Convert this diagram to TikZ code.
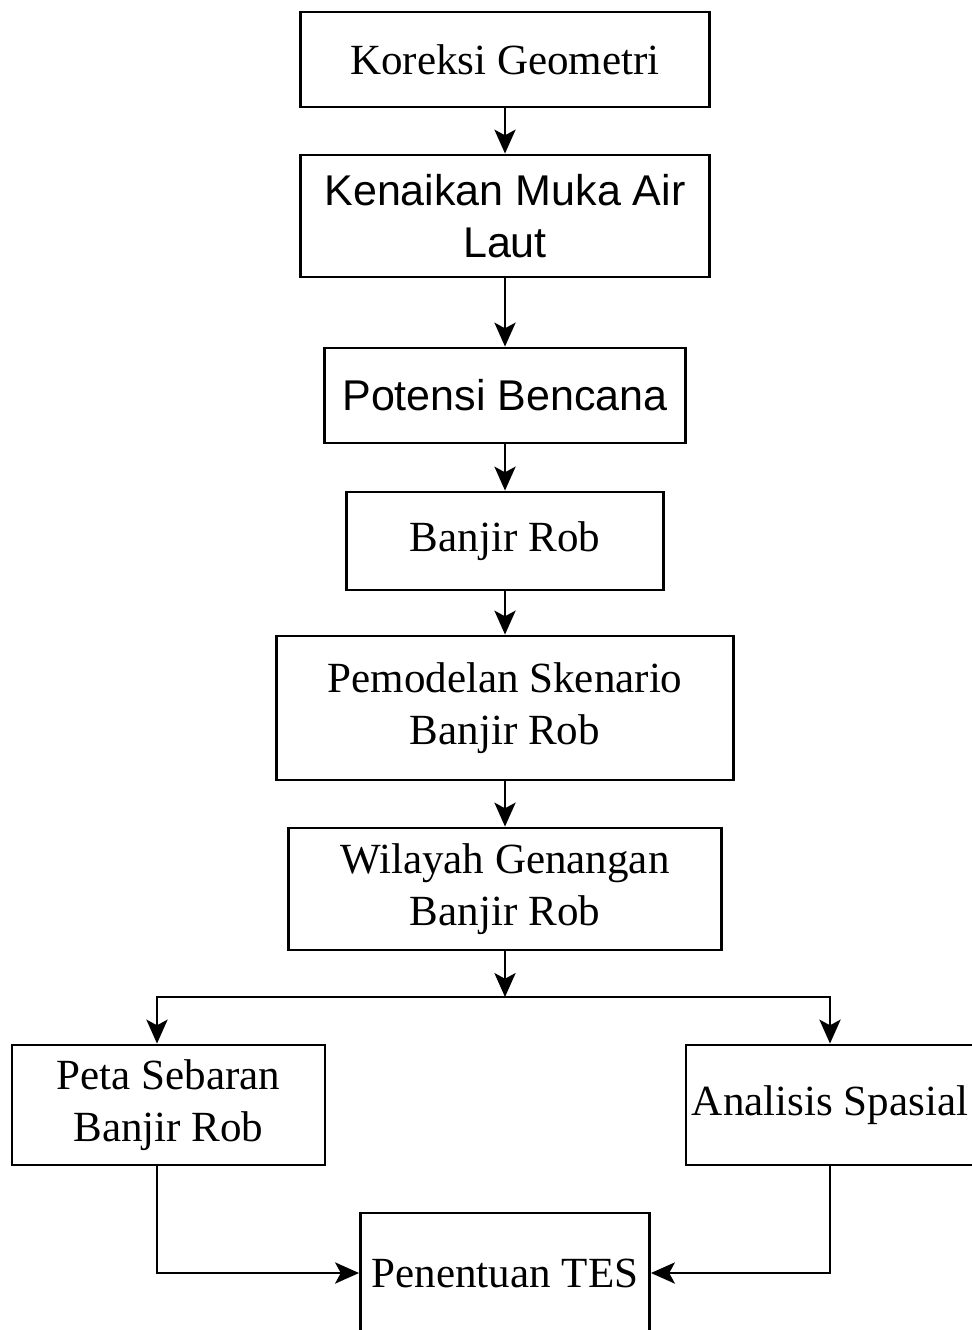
\documentclass[tikz,border=0pt]{standalone}
\usepackage{fontspec}
\setmainfont{Liberation Serif}
\newfontfamily\arialfnt{Liberation Sans}
\usepackage{tikz}
\usetikzlibrary{positioning, arrows.meta}
\tikzset{
  stepbox/.style={draw, line width=2pt, inner sep=0pt, align=center,
    font=\fontsize{30.6pt}{37pt}\selectfont},
  sansbox/.style={stepbox, font=\arialfnt\fontsize{30.6pt}{37pt}\selectfont},
  arr/.style={line width=2pt, -{Stealth[length=17pt, width=15pt, inset=4pt]}}
}

\begin{document}
\begin{tikzpicture}[x=0.025cm, y=-0.025cm]
  \useasboundingbox (0,0) rectangle (972,1330);
  \clip (0,0) rectangle (972,1330);
  % main column
  \node[stepbox, minimum width=10.225cm, minimum height=2.375cm] (koreksi) at (505,59.5) {Koreksi Geometri};
  \node[sansbox, minimum width=10.225cm, minimum height=3.05cm] (kenaikan) at (505,216) {Kenaikan Muka Air\\Laut};
  \node[sansbox, minimum width=9.025cm, minimum height=2.375cm] (potensi) at (505,395.5) {Potensi Bencana};
  \node[stepbox, minimum width=7.925cm, minimum height=2.45cm] (banjir) at (505,541) {Banjir Rob};
  \node[stepbox, minimum width=11.425cm, minimum height=3.6cm] (pemodelan) at (505,708) {Pemodelan Skenario\\Banjir Rob};
  \node[stepbox, minimum width=10.825cm, minimum height=3.05cm] (wilayah) at (505,889) {Wilayah Genangan\\Banjir Rob};
  % branches
  \node[stepbox, minimum width=7.825cm, minimum height=3cm] (peta) at (168.5,1105) {Peta Sebaran\\Banjir Rob};
  \node[stepbox, minimum width=7.2cm, minimum height=3cm] (analisis) at (830,1105) {Analisis Spasial};
  \node[stepbox, minimum width=7.225cm, minimum height=3cm] (tes) at (505,1273) {Penentuan TES};
  \coordinate (split) at (505,997);

  \draw[arr] (koreksi) -- (kenaikan);
  \draw[arr] (kenaikan) -- (potensi);
  \draw[arr] (potensi) -- (banjir);
  \draw[arr] (banjir) -- (pemodelan);
  \draw[arr] (pemodelan) -- (wilayah);
  \draw[arr] (wilayah) -- (split);
  \draw[arr] (split) -| ([xshift=-0.2875cm]peta.north);
  \draw[arr] (split) -| (analisis.north);
  \draw[arr] ([xshift=-0.2875cm]peta.south) |- (tes.west);
  \draw[arr] (analisis.south) |- (tes.east);
\end{tikzpicture}
\end{document}
